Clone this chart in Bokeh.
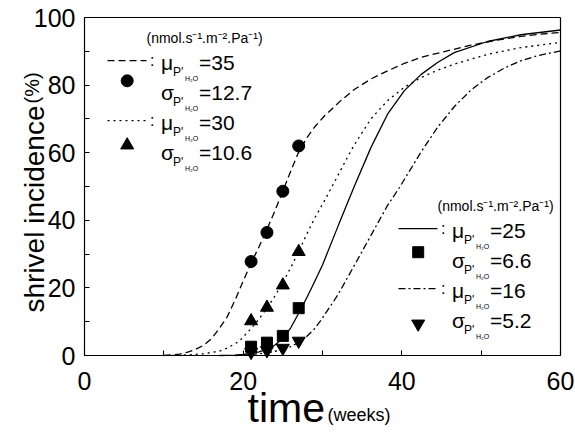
import numpy as np
from bokeh.plotting import figure
from bokeh.models import Range1d, FixedTicker, Label, LinearAxis
from bokeh.embed import file_html
from bokeh.resources import INLINE

# ---------------- data ----------------
weeks_obs = [21, 23, 25, 27]
obs_mu35 = [27.8, 36.4, 48.6, 62.0]
obs_mu30 = [10.2, 14.2, 20.8, 30.7]
obs_mu25 = [2.6, 3.8, 5.8, 14.0]
obs_mu16 = [1.0, 1.5, 2.2, 4.3]

t_mu35 = [10, 12, 13, 14, 15, 16, 17, 18, 19, 20, 21, 22, 23, 24, 25, 26, 27, 28, 29,
          30.3, 32.3, 34, 36.1, 38.2, 40.3, 42.4, 45.5, 48.7, 52, 55, 57.5, 60]
fit_mu35 = [0, 0.4, 1.0, 1.8, 3.0, 5.0, 8.0, 11.5, 16.5, 22.0, 27.3, 32.2, 37.3, 42.8, 48.6,
            54.6, 60.2, 64.3, 67.6, 71.0, 75.4, 78.7, 81.8, 84.2, 86.4, 88.2, 90.0, 91.8,
            93.3, 94.4, 95.1, 95.6]

t_mu30 = [11, 13, 15, 17, 18, 19.5, 21, 22, 23, 24, 25, 26, 27, 28, 29, 30.3, 31.5, 33, 34,
          36.1, 38.2, 40.3, 42.4, 44.5, 46.6, 50.8, 55, 60]
fit_mu30 = [0, 0.2, 0.5, 1.3, 2.2, 4.2, 8.0, 10.8, 14.0, 17.6, 21.6, 26.0, 30.8, 35.8, 40.6,
            46.0, 51.3, 58.0, 62.3, 70.0, 75.4, 79.3, 82.2, 84.4, 86.2, 89.1, 91.1, 92.6]

t_mu25 = [17, 19, 20, 21, 22, 23, 24, 25, 26, 27, 28, 29, 30, 32, 34, 36.1, 38.2, 40.3, 42.4,
          44.5, 46.6, 50.8, 55, 60]
fit_mu25 = [0, 0.1, 0.3, 0.6, 1.1, 1.9, 3.1, 5.0, 8.2, 12.5, 17.0, 21.8, 26.8, 38.5, 50.0,
            61.5, 71.4, 78.3, 83.1, 86.7, 89.6, 92.9, 94.9, 96.3]

t_mu16 = [19, 21, 23, 25, 26, 27, 28, 29, 29.8, 31.9, 34, 36.1, 38.2, 39.7, 42.4, 44.5, 46.6,
          48.7, 50.8, 52.9, 55, 57.1, 60]
fit_mu16 = [0, 0.3, 0.8, 1.7, 2.6, 3.9, 5.6, 7.9, 10.4, 17.8, 26.6, 35.5, 44.4, 49.7, 60.1,
            67.5, 73.6, 78.5, 82.2, 85.0, 87.2, 88.7, 90.1]

legend_mu = ["35", "30", "25", "16"]
legend_sigma = ["12.7", "10.6", "6.6", "5.2"]
unit_text = "(nmol.s\u207b\u00b9.m\u207b\u00b2.Pa\u207b\u00b9)"

x_ticks = [0, 20, 40, 60]
x_minor = [10, 30, 50]
y_ticks = [0, 20, 40, 60, 80, 100]
y_minor = [10, 30, 50, 70, 90]
X0, X1 = 0, 60
Y0, Y1 = 0, 100

# ---------------- geometry ----------------
W, H = 575, 434
FL, FT, FR, FB = 84, 17, 560, 355          # data box in canvas pixels
sx = (FR - FL) / (X1 - X0)
sy = (FB - FT) / (Y1 - Y0)
x_range = Range1d(X0 - FL / sx, X1 + (W - FR) / sx)
y_range = Range1d(Y0 - (H - FB) / sy, Y1 + FT / sy)

def dx(px):
    return X0 + (px - FL) / sx
def dy(py):
    return Y0 + (FB - py) / sy

p = figure(width=W, height=H, output_backend="svg", toolbar_location=None,
           x_range=x_range, y_range=y_range, x_axis_location=None, y_axis_location=None,
           min_border_left=0, min_border_right=0, min_border_top=0, min_border_bottom=0)
p.grid.visible = False
p.outline_line_color = None
p.background_fill_color = "white"
p.border_fill_color = "white"

FONT = "Liberation Sans"

def style_axis(ax):
    ax.major_tick_in = 5
    ax.major_tick_out = 0
    ax.minor_tick_in = 5
    ax.minor_tick_out = 0
    ax.axis_line_color = "black"
    ax.axis_line_width = 1.2
    ax.major_tick_line_color = "black"
    ax.minor_tick_line_color = "black"
    ax.major_tick_line_width = 1.1
    ax.minor_tick_line_width = 1.1
    ax.major_label_text_font = FONT
    ax.major_label_text_font_size = "25px"
    ax.major_label_text_color = "black"

xax = LinearAxis(fixed_location=Y0, bounds=(X0, X1),
                 ticker=FixedTicker(ticks=x_ticks, minor_ticks=x_minor))
style_axis(xax)
xax.major_label_standoff = 16
p.add_layout(xax, "below")

yax = LinearAxis(fixed_location=X0, bounds=(Y0, Y1),
                 ticker=FixedTicker(ticks=y_ticks, minor_ticks=y_minor))
style_axis(yax)
yax.major_label_standoff = 9
p.add_layout(yax, "left")

for loc, fixed, bnds in (("above", Y1, (X0, X1)), ("right", X1, (Y0, Y1))):
    ax = LinearAxis(fixed_location=fixed, bounds=bnds, ticker=FixedTicker(ticks=[]))
    ax.axis_line_color = "black"
    ax.axis_line_width = 1.2
    ax.major_tick_in = 0
    ax.major_tick_out = 0
    ax.minor_tick_in = 0
    ax.minor_tick_out = 0
    ax.major_label_text_font_size = "0px"
    p.add_layout(ax, loc)

LW = 1.3
DASH = "7 4"
DOT = "2 4"
DASHDOT = "7 3 2 3"

# fitted curves
p.line(t_mu35, fit_mu35, line_color="black", line_width=LW, line_dash=DASH)
p.line(t_mu30, fit_mu30, line_color="black", line_width=LW, line_dash=DOT)
p.line(t_mu25, fit_mu25, line_color="black", line_width=LW)
p.line(t_mu16, fit_mu16, line_color="black", line_width=LW, line_dash=DASHDOT)

# observations
p.scatter(weeks_obs, obs_mu35, marker="circle", size=12, color="black")
p.scatter(weeks_obs, obs_mu30, marker="triangle", size=13, color="black")
p.scatter(weeks_obs, obs_mu25, marker="square", size=11, color="black")
p.scatter(weeks_obs, obs_mu16, marker="inverted_triangle", size=13, color="black")

BASE_FIX = 0.3   # compensation (in em) for where the label baseline lands

def lab(px, py, text, size, angle=0.0):
    if angle:
        px = px - BASE_FIX * size
    else:
        py = py - BASE_FIX * size
    p.add_layout(Label(x=dx(px), y=dy(py), text=text, text_font=FONT,
                       text_font_size=f"{size}px", text_color="black",
                       text_align="left", text_baseline="alphabetic", angle=angle))

# ---------------- legends ----------------
def legend_block(x_off, y_off, mu_txt, sig_txt, dash_a, marker_a, dash_b, marker_b,
                 mk_pos_a, mk_pos_b):
    lab(146 + x_off, 42 + y_off, unit_text, 14)
    rows = [("\u03bc", mu_txt[0]), ("\u03c3", sig_txt[0]), ("\u03bc", mu_txt[1]), ("\u03c3", sig_txt[1])]
    bases = [68.7, 98.7, 128.7, 158.7]
    for (g, v), b in zip(rows, bases):
        yb = b + y_off
        x0 = 160.5 + x_off
        lab(x0, yb, g, 21)
        lab(x0 + 12, yb + 6.5, "P'", 12)
        lab(x0 + 24, yb + 11.5, "H\u2082O", 7)
        lab(x0 + 38, yb, "=" + v, 21)
    for yb, dsh in ((bases[0] + y_off, dash_a), (bases[2] + y_off, dash_b)):
        ly = yb - 8.5
        kw = dict(line_color="black", line_width=LW)
        if dsh is not None:
            kw["line_dash"] = dsh
        p.line([dx(107 + x_off), dx(146 + x_off)], [dy(ly), dy(ly)], **kw)
        lab(149.5 + x_off, ly + 5, ":", 16)
    p.scatter([dx(126.7 + x_off)], [dy(mk_pos_a + y_off)], marker=marker_a,
              size=12 if marker_a == "circle" else 11, color="black")
    p.scatter([dx(126.7 + x_off)], [dy(mk_pos_b + y_off)], marker=marker_b,
              size=13 if "triangle" in marker_b else 11, color="black")

legend_block(0, 0, legend_mu[0:2], legend_sigma[0:2], DASH, "circle", DOT, "triangle", 80.3, 144.7)
legend_block(291, 168, legend_mu[2:4], legend_sigma[2:4], None, "square", DASHDOT,
             "inverted_triangle", 83.7, 155.3)

# ---------------- axis titles ----------------
lab(42, 312, "shrivel incidence", 28, angle=np.pi / 2)
lab(37, 103, "(%)", 20, angle=np.pi / 2)
lab(247, 420, "time", 41)
lab(327, 420, "(weeks)", 18)

open("out.html", "w").write(file_html(p, INLINE))
